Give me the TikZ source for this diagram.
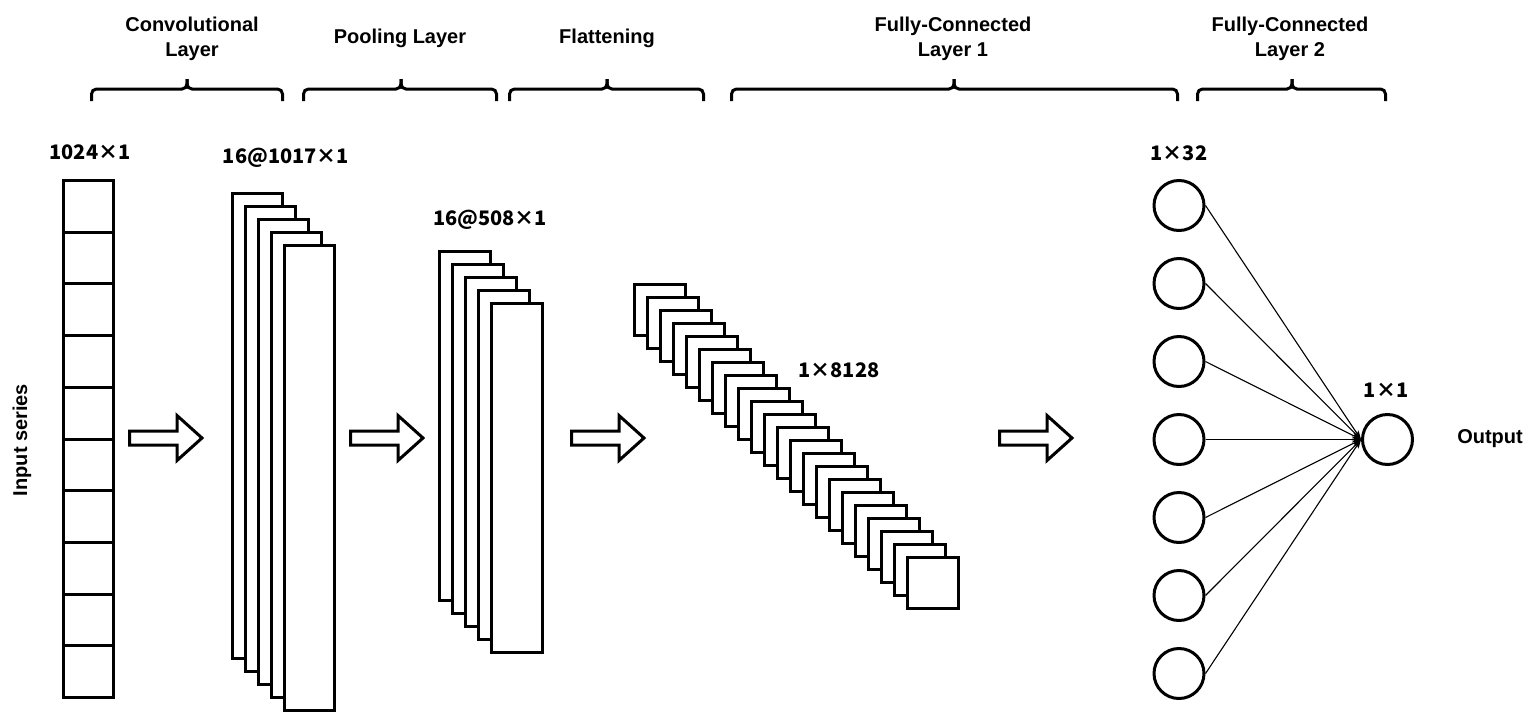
\documentclass[tikz,border=0pt]{standalone}
\usepackage{fontspec}
\setmainfont{Liberation Sans}
\newfontfamily\cjk{Noto Sans CJK SC}
\usetikzlibrary{arrows.meta}
\begin{document}
\begin{tikzpicture}[x=1pt,y=-1pt,
  box/.style={draw,line width=3pt,fill=white},
  hdr/.style={font=\bfseries\fontsize{20}{25}\selectfont,align=center,inner sep=0pt},
  dim/.style={font=\cjk\bfseries\fontsize{20}{24}\selectfont,inner sep=0pt},
  neuron/.style={circle,draw,line width=3pt,minimum size=50pt,inner sep=0pt},
  link/.style={line width=1.1pt,-{Stealth[length=9pt,width=6pt]}},
  blockarrow/.style={draw,line width=3pt,line join=miter},
  brace/.style={line width=3pt,rounded corners=5pt}]
\useasboundingbox (0,0) rectangle (1527,713);

% headers
\node[hdr] (hconv) at (192,39) {Convolutional\\Layer};
\node[hdr] (hpool) at (400,38) {Pooling Layer};
\node[hdr] (hflat) at (607,38) {Flattening};
\node[hdr] (hfc1) at (953,39) {Fully-Connected\\Layer 1};
\node[hdr] (hfc2) at (1290,39) {Fully-Connected\\Layer 2};

% braces
\foreach \a/\b/\t in {91.5/282.5/187, 303.5/496.5/401, 509.5/703.5/607, 731.5/1177.5/954, 1197.5/1385.5/1292}{
  \draw[brace] (\a,101) -- (\a,89) -- (\t,89) -- (\t,79);
  \draw[brace] (\t,79) -- (\t,89) -- (\b,89) -- (\b,101);
}

% input column
\foreach \i in {0,...,9}
  \draw[box] (63.5,{180.5+51.7*\i}) rectangle (113.5,{180.5+51.7*(\i+1)});
\node[dim] (lin) at (90,152) {1024×1};
\node[hdr,rotate=90] (inser) at (22,440) {Input series};

% convolutional stack
\foreach \i in {0,...,4}
  \draw[box] ({232.5+13*\i},{193.5+13*\i}) rectangle ({282.5+13*\i},{658.5+13*\i});
\node[dim] (lconv) at (286,158) {16@1017×1};

% pooling stack
\foreach \i in {0,...,4}
  \draw[box] ({439.5+13.1*\i},{251.5+13*\i}) rectangle ({490+13.1*\i},{600.5+13*\i});
\node[dim] (lpool) at (490,220) {16@508×1};

% flattening stack
\foreach \i in {0,...,21}
  \draw[box] ({634.5+13*\i},{284.5+13*\i}) rectangle ({685.5+13*\i},{335+13*\i});
\node[dim] (lflat) at (839,370) {1×8128};

% block arrows
\foreach \x in {128,349,570,998}
  \draw[blockarrow] (\x+1.5,431) -- (\x+49,431) -- (\x+49,415.5) -- (\x+74,438) -- (\x+49,460.5) -- (\x+49,445) -- (\x+1.5,445) -- cycle;

% fully-connected neurons
\foreach \i in {1,...,7}
  \node[neuron] (n\i) at (1179,{205.5+78*(\i-1)}) {};
\node[neuron] (out) at (1387.5,439.5) {};
\foreach \i in {1,...,7}
  \draw[link] (n\i.east) -- (out.west);
\node[dim] (l32) at (1179,153) {1×32};
\node[dim] (l1) at (1386,390) {1×1};
\node[hdr] (outlbl) at (1490,439) {Output};
\end{tikzpicture}
\end{document}
